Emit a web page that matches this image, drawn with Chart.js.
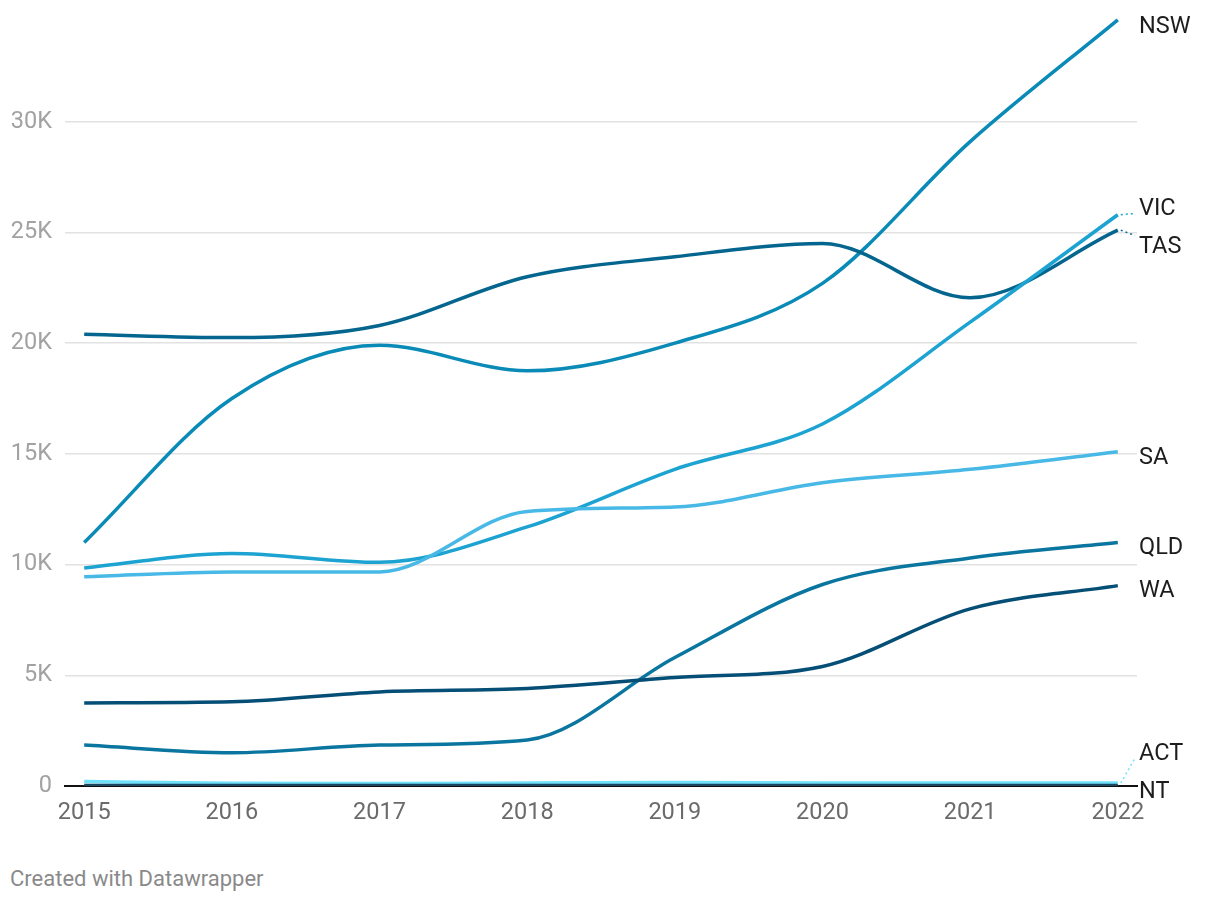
<!DOCTYPE html>
<html>
<head>
<meta charset="utf-8">
<script src="https://cdn.jsdelivr.net/npm/chart.js@4"></script>
<style>
  body { margin: 0; background: #fff; font-family: Roboto, sans-serif; }
  #wrap { position: relative; width: 1220px; height: 902px; }
  #chart-box { position: absolute; left: 0; top: 0; width: 1220px; height: 840px; }
  #footer { position: absolute; left: 10px; top: 866px; font-size: 22px; color: #8a8a8a; }
</style>
</head>
<body>
<div id="wrap">
  <div id="chart-box"><canvas id="lineChart" width="1220" height="840"></canvas></div>
  <div id="footer">Created with Datawrapper</div>
</div>
<script>
// data
var years = [2015, 2016, 2017, 2018, 2019, 2020, 2021, 2022];
var yTicks = [0, 5000, 10000, 15000, 20000, 25000, 30000];

var nsw = [11000, 17500, 19900, 18750, 20000, 22700, 29100, 34600];
var vic = [9850, 10500, 10100, 11700, 14300, 16350, 20950, 25800];
var tas = [20400, 20250, 20800, 23000, 23900, 24500, 22050, 25100];
var sa  = [9450, 9670, 9670, 12400, 12600, 13700, 14300, 15100];
var qld = [1850, 1500, 1850, 2080, 5800, 9100, 10300, 11000];
var wa  = [3750, 3800, 4250, 4400, 4900, 5400, 8000, 9050];
var act = [200, 120, 110, 130, 160, 140, 130, 130];
var nt  = [20, 20, 20, 20, 20, 20, 20, 20];

function pts(arr) {
  return arr.map(function (v, i) { return { x: years[i], y: v }; });
}

function series(label, arr, color) {
  return {
    label: label,
    data: pts(arr),
    borderColor: color,
    borderWidth: 3.5,
    pointRadius: 0,
    cubicInterpolationMode: 'monotone',
    fill: false
  };
}

// end labels with a small dodge so they don't overlap
var endLabels = {
  id: 'endLabels',
  afterDatasetsDraw: function (chart) {
    var ctx = chart.ctx;
    var area = chart.chartArea;
    var items = [];
    chart.data.datasets.forEach(function (ds, i) {
      var meta = chart.getDatasetMeta(i);
      var last = meta.data[meta.data.length - 1];
      items.push({ text: ds.label, color: ds.borderColor, x: last.x, y0: last.y, y: last.y });
    });
    items.sort(function (a, b) { return a.y - b.y; });
    var gap = 38, top = 21, bottom = area.bottom;
    for (var it = 0; it < 100; it++) {
      for (var k = 0; k < items.length - 1; k++) {
        var d = items[k + 1].y - items[k].y;
        if (d < gap) {
          var m = (gap - d) / 2;
          items[k].y -= m;
          items[k + 1].y += m;
        }
      }
      items.forEach(function (o) {
        if (o.y < top) o.y = top;
        if (o.y > bottom) o.y = bottom;
      });
    }
    ctx.save();
    ctx.font = '23.5px Roboto';
    ctx.textBaseline = 'middle';
    ctx.fillStyle = '#1d1d1d';
    items.forEach(function (o) {
      if (Math.abs(o.y - o.y0) > 3) {
        ctx.save();
        ctx.strokeStyle = o.color;
        ctx.lineWidth = 1.5;
        ctx.setLineDash([2, 3]);
        ctx.beginPath();
        ctx.moveTo(o.x + 3, o.y0);
        ctx.lineTo(area.right - 2, o.y + (o.y0 > o.y ? 10 : -6));
        ctx.stroke();
        ctx.restore();
      }
      ctx.fillText(o.text, area.right + 2, o.y + 6);
    });
    ctx.restore();
  }
};

document.addEventListener('DOMContentLoaded', function () {
  var ctx = document.getElementById('lineChart').getContext('2d');

  var data = {
    datasets: [
      series('NT', nt, '#1b4660'),
      series('ACT', act, '#6fe1fa'),
      series('WA', wa, '#054f77'),
      series('QLD', qld, '#0a76a0'),
      series('SA', sa, '#48b9e6'),
      series('VIC', vic, '#1da3d2'),
      series('TAS', tas, '#04668e'),
      series('NSW', nsw, '#0a8ab6')
    ]
  };

  var options = {
    responsive: false,
    animation: false,
    layout: { padding: { top: 11, right: 83, left: 0, bottom: 0 } },
    plugins: {
      legend: { display: false },
      tooltip: { enabled: false }
    },
    scales: {
      x: {
        type: 'linear',
        min: 2014.87,
        max: 2022.13,
        afterBuildTicks: function (scale) {
          scale.ticks = years.map(function (v) { return { value: v }; });
        },
        afterFit: function (scale) {
          scale.height = 54;
          scale.paddingLeft = 0;
          scale.paddingRight = 0;
        },
        grid: { display: false, drawTicks: false },
        border: { display: true, color: '#111', width: 2 },
        ticks: {
          padding: 13,
          color: '#6b6b6b',
          font: { family: 'Roboto', size: 23.5 },
          maxRotation: 0,
          callback: function (v) { return String(v); }
        }
      },
      y: {
        min: 0,
        max: 35000,
        afterBuildTicks: function (scale) {
          scale.ticks = yTicks.map(function (v) { return { value: v }; });
        },
        afterFit: function (scale) {
          scale.width = 65;
          scale.paddingTop = 0;
          scale.paddingBottom = 0;
        },
        grid: { color: '#e2e2e2', lineWidth: 1.5, drawTicks: false },
        border: { display: false },
        ticks: {
          padding: 13,
          color: '#a2a2a2',
          font: { family: 'Roboto', size: 23.5 },
          callback: function (v) { return v === 0 ? '0' : (v / 1000) + 'K'; }
        }
      }
    }
  };

  new Chart(ctx, {
    type: 'line',
    data: data,
    options: options,
    plugins: [endLabels]
  });
});
</script>
</body>
</html>
